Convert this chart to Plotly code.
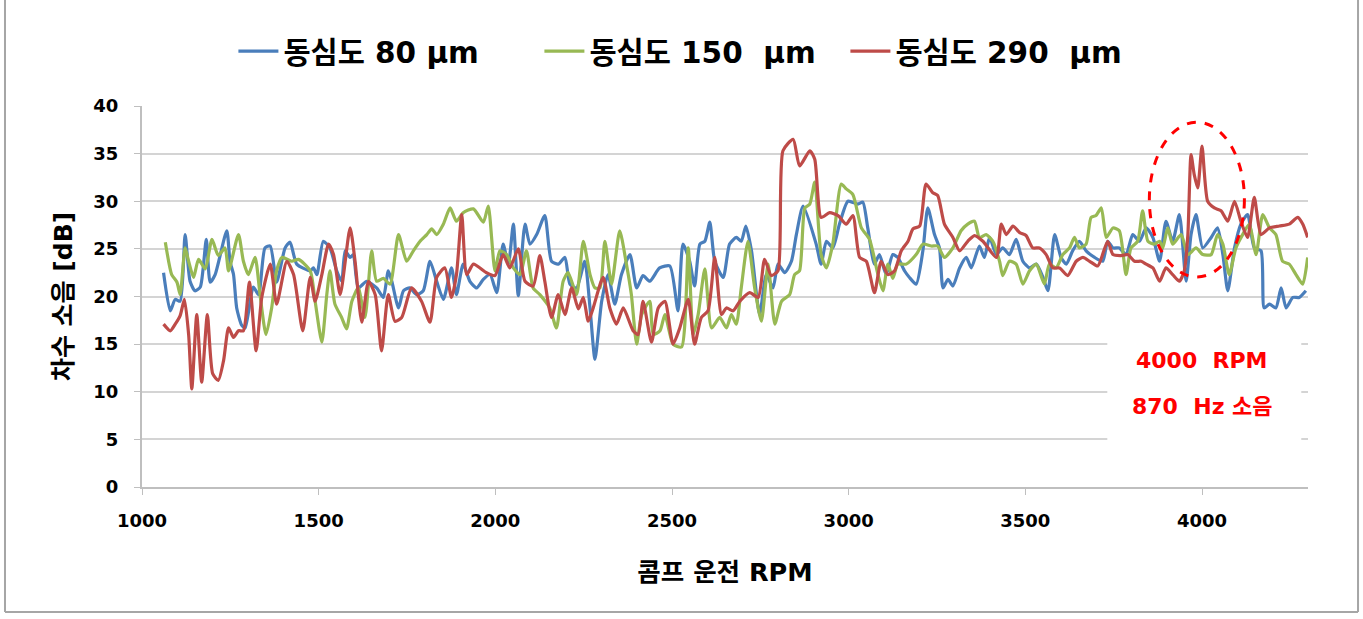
import plotly.graph_objects as go

# RPM sweep readings for each concentricity setting (order noise, dB)
rpm_80 = [1061, 1080, 1094, 1108, 1122, 1136, 1150, 1165, 1182, 1193, 1207, 1240, 1249, 1259, 1268, 1282, 1292,
          1315, 1330, 1348, 1363, 1381, 1405, 1419, 1438, 1476,
          1485, 1495, 1513, 1532, 1551, 1565, 1575, 1589, 1598, 1612, 1636, 1664, 1683, 1697, 1707, 1726, 1740,
          1758, 1777, 1796, 1815, 1834, 1853, 1876, 1890, 1909, 1928, 1947,
          1966, 1985, 2004, 2022, 2037, 2051, 2065, 2084, 2098, 2117, 2140, 2159, 2178, 2197, 2211, 2230, 2253,
          2268, 2282, 2301, 2319, 2338, 2357, 2381, 2400, 2418, 2437,
          2465, 2494, 2517, 2531, 2550, 2564, 2579, 2593, 2607, 2621, 2645, 2663, 2682, 2696, 2709, 2725, 2748,
          2767, 2786, 2800, 2819, 2838, 2852, 2871,
          2908, 2922, 2937, 2955, 2974, 2998, 3026, 3040, 3054, 3073, 3087, 3106, 3125, 3139, 3158, 3172, 3191,
          3210, 3224, 3243, 3257, 3267, 3281, 3295, 3314, 3333, 3347, 3370, 3384, 3399,
          3418, 3436, 3455, 3474, 3493, 3512, 3531, 3550, 3564, 3583, 3601, 3616, 3634, 3653, 3672, 3696, 3719,
          3733, 3748, 3766, 3785, 3804, 3823, 3842, 3861, 3880,
          3898, 3917, 3936, 3955, 3969, 3983, 4002, 4026, 4044, 4059, 4073, 4092, 4110, 4129, 4148, 4167, 4176,
          4191, 4209, 4224, 4238, 4257, 4275, 4294]
db_80 = [22.5, 18.5, 19.7, 19.5, 26.5, 21.6, 20.6, 21.0, 26.0, 21.5, 22.3, 26.9, 23.7, 22.3, 18.8, 17.0, 16.7,
         21.0, 20.2, 25.1, 25.3, 21.5, 25.1, 25.7, 23.4, 22.7,
         23.0, 22.3, 25.8, 25.1, 22.7, 21.6, 24.8, 24.1, 24.4, 20.9, 21.6, 20.9, 19.9, 22.7, 21.6, 18.8, 20.6,
         20.9, 20.2, 20.6, 23.7, 21.6, 19.7, 23.0, 20.2, 23.4, 21.6, 20.9,
         21.8, 22.3, 20.4, 25.5, 23.4, 27.6, 20.1, 27.6, 25.5, 26.5, 28.5, 23.7, 23.4, 24.1, 21.3, 20.9, 23.7,
         18.8, 13.4, 19.5, 22.3, 19.2, 22.3, 24.4, 20.9, 22.2, 21.6,
         23.0, 23.2, 18.5, 25.5, 23.7, 21.1, 25.5, 25.8, 27.8, 23.7, 22.0, 25.5, 26.2, 25.8, 27.4, 24.8, 18.1,
         22.3, 20.9, 23.4, 22.5, 23.7, 26.5, 29.5,
         25.5, 23.4, 25.8, 25.1, 27.6, 30.0, 29.7, 29.9, 27.2, 23.4, 24.4, 22.3, 24.4, 24.1, 22.7, 22.0, 21.3,
         24.8, 29.3, 26.5, 25.1, 20.9, 21.8, 21.1, 23.0, 24.1, 23.0, 25.3, 24.1, 26.2,
         24.4, 25.1, 24.4, 26.0, 23.7, 23.0, 23.4, 22.0, 20.6, 26.5, 24.1, 23.4, 24.8, 25.8, 24.8, 24.1, 23.7,
         25.8, 25.1, 25.1, 24.4, 26.5, 25.8, 27.2, 26.2, 23.7,
         27.9, 25.8, 28.6, 21.6, 26.5, 28.6, 25.1, 26.2, 27.2, 24.4, 20.6, 25.1, 27.6, 28.6, 25.1, 24.8, 18.8,
         19.2, 18.8, 20.9, 18.8, 19.9, 19.9, 20.6]

rpm_150 = [1066, 1084, 1099, 1108, 1122, 1132, 1146, 1160, 1179, 1198, 1216, 1235, 1245, 1273, 1287, 1301,
           1320, 1334, 1351, 1367, 1381, 1396, 1424, 1443, 1476,
           1490, 1509, 1523, 1532, 1546, 1565, 1579, 1594, 1612, 1631, 1650, 1664, 1683, 1702, 1726, 1749,
           1768, 1787, 1806, 1820, 1834, 1853, 1872, 1890, 1909, 1938,
           1966, 1980, 1999, 2013, 2032, 2051, 2070, 2088, 2107, 2126, 2154, 2173, 2192, 2206, 2230, 2249,
           2268, 2282, 2296, 2310, 2329, 2352, 2371, 2385, 2400, 2414, 2437,
           2447, 2466, 2480, 2503, 2527, 2546, 2560, 2574, 2593, 2612, 2635, 2654, 2668, 2682, 2696, 2715,
           2734, 2753, 2772, 2791, 2810, 2833, 2847, 2861, 2876, 2890, 2904,
           2922, 2937, 2955, 2979, 2993, 3012, 3036, 3059, 3083, 3097, 3111, 3125, 3139, 3163, 3191, 3210,
           3234, 3252, 3271, 3295, 3318, 3337, 3356, 3370, 3389,
           3408, 3427, 3436, 3455, 3474, 3493, 3512, 3531, 3554, 3568, 3587, 3606, 3625, 3639, 3653, 3672,
           3686, 3700, 3715, 3729, 3748, 3766, 3785, 3799, 3818, 3832, 3847, 3865, 3880,
           3889, 3903, 3917, 3941, 3960, 3983, 4002, 4026, 4044, 4059, 4077, 4096, 4115, 4134, 4153, 4172,
           4191, 4209, 4228, 4247, 4266, 4285, 4299]
db_150 = [25.7, 22.3, 21.5, 20.2, 25.1, 23.7, 22.0, 23.9, 22.9, 26.0, 24.3, 25.1, 22.7, 26.5, 23.7, 22.3,
          24.1, 20.2, 16.0, 18.8, 22.7, 24.1, 23.7, 23.9, 22.7,
          19.5, 15.2, 20.2, 22.7, 19.2, 17.8, 16.6, 19.5, 20.9, 17.8, 24.8, 21.6, 21.9, 21.3, 26.5, 23.7,
          24.8, 25.8, 26.5, 27.1, 26.5, 27.6, 29.3, 27.9, 28.8, 29.2,
          27.8, 29.5, 22.7, 24.8, 24.4, 23.0, 22.3, 24.8, 20.9, 20.2, 18.8, 16.7, 21.6, 22.5, 20.2, 25.8,
          22.3, 20.9, 20.9, 25.8, 21.3, 26.9, 23.4, 20.2, 15.0, 18.1, 19.5,
          16.0, 16.4, 18.1, 15.0, 14.7, 25.1, 16.0, 18.1, 22.9, 16.7, 17.8, 16.7, 18.1, 17.1, 20.9, 25.8,
          20.9, 17.4, 23.4, 17.1, 19.5, 20.2, 22.3, 22.7, 29.3, 29.7, 32.0,
          24.4, 23.0, 25.5, 31.8, 31.3, 30.7, 27.2, 26.0, 22.3, 20.6, 23.4, 21.9, 23.4, 23.4, 24.4, 25.5,
          25.3, 25.3, 24.1, 25.1, 26.9, 27.6, 27.9, 26.2, 26.5,
          25.8, 23.7, 22.2, 23.7, 23.4, 21.3, 22.7, 23.4, 21.3, 23.4, 23.0, 24.4, 25.1, 26.2, 25.1, 25.5,
          28.3, 28.5, 29.3, 26.2, 27.2, 26.9, 22.3, 25.1, 25.8, 29.0, 25.8, 25.5, 25.8,
          25.1, 27.2, 25.5, 26.5, 24.4, 25.1, 24.4, 24.4, 26.5, 25.5, 22.3, 25.1, 26.5, 27.6, 24.4, 28.6,
          27.2, 26.5, 23.7, 23.4, 22.3, 21.3, 24.1]

rpm_290 = [1061, 1080, 1094, 1108, 1120, 1132, 1141, 1155, 1169, 1185, 1200, 1216, 1231, 1245, 1259, 1273,
           1287, 1304, 1323, 1339, 1363, 1381, 1410, 1429, 1455, 1476,
           1490, 1509, 1528, 1542, 1561, 1589, 1603, 1622, 1641, 1660, 1678, 1697, 1716, 1735, 1763, 1791,
           1815, 1834, 1857, 1876, 1890, 1905, 1919, 1938,
           1975, 1999, 2022, 2041, 2065, 2084, 2107, 2126, 2140, 2159, 2178, 2197, 2216, 2235, 2249, 2263,
           2277, 2305, 2324, 2343, 2362, 2390, 2404, 2418,
           2442, 2461, 2480, 2503, 2522, 2546, 2564, 2583, 2602, 2621, 2640, 2654, 2673, 2692, 2720, 2744,
           2762, 2781, 2800, 2814, 2843, 2861, 2890,
           2904, 2922, 2946, 2970, 2993, 3012, 3031, 3050, 3073, 3092, 3111, 3130, 3149, 3168, 3182, 3201,
           3219, 3238, 3252, 3271, 3295, 3314, 3337, 3356, 3380,
           3418, 3432, 3446, 3465, 3484, 3502, 3521, 3540, 3559, 3578, 3597, 3620, 3644, 3663, 3682, 3705,
           3733, 3748, 3771, 3790, 3809, 3828, 3842, 3861, 3880,
           3898, 3917, 3936, 3950, 3960, 3969, 3978, 3988, 4000, 4016, 4035, 4054, 4073, 4092, 4110, 4129,
           4148, 4167, 4191, 4219, 4247, 4271, 4285, 4299]
db_290 = [17.1, 16.4, 17.1, 18.0, 19.7, 16.0, 10.3, 18.1, 11.0, 18.1, 11.9, 11.2, 13.3, 16.7, 15.7, 16.4,
          16.4, 21.5, 14.3, 19.9, 23.4, 19.2, 23.7, 22.3, 16.4, 22.0,
          19.5, 22.3, 25.5, 24.4, 20.2, 27.2, 23.7, 17.3, 21.6, 20.2, 14.3, 20.2, 17.4, 17.8, 20.9, 19.5,
          17.3, 22.0, 23.0, 19.9, 22.3, 28.6, 22.3, 23.4,
          22.5, 22.2, 24.4, 23.0, 25.0, 21.6, 21.1, 24.3, 21.6, 17.8, 20.2, 18.1, 20.9, 18.7, 19.9, 17.4,
          18.8, 22.0, 18.8, 17.1, 18.8, 16.4, 16.0, 19.5,
          15.2, 18.8, 19.5, 15.0, 16.7, 19.7, 15.0, 17.8, 18.5, 24.1, 18.1, 18.8, 18.5, 19.5, 20.4, 19.9,
          23.9, 22.2, 22.7, 35.3, 36.5, 33.7, 35.3,
          34.4, 28.3, 28.8, 28.5, 27.6, 28.5, 24.1, 23.7, 20.4, 23.7, 22.3, 22.7, 24.8, 25.8, 27.1, 27.4,
          31.8, 30.9, 30.6, 27.6, 26.2, 24.8, 25.8, 26.4, 25.8,
          24.1, 27.6, 26.5, 27.4, 26.7, 26.4, 25.1, 25.1, 24.4, 23.0, 23.0, 22.2, 23.7, 24.1, 23.7, 23.2,
          25.8, 24.4, 24.3, 24.4, 23.7, 23.7, 23.4, 23.0, 21.6,
          23.0, 22.3, 21.6, 22.7, 26.5, 34.9, 32.8, 31.4, 35.8, 30.0, 29.3, 29.0, 27.9, 30.0, 27.9, 26.2,
          30.4, 26.5, 27.2, 27.4, 27.6, 28.3, 27.6, 26.2]

series_names = ["동심도 80 μm", "동심도 150\u00a0 μm", "동심도 290\u00a0 μm"]
series_colors = ["#4A7EBB", "#98B954", "#BE4B48"]

x_ticks = [1000, 1500, 2000, 2500, 3000, 3500, 4000]
y_ticks = [0, 5, 10, 15, 20, 25, 30, 35, 40]

note_lines = ["4000\u00a0 RPM", "870\u00a0 Hz 소음"]

TXT = "DejaVu Sans, Noto Sans CJK KR"
GRID = "#D4D4D4"
AXIS = "#BFBFBF"

fig = go.Figure()
for xs, ys, name, color in zip([rpm_80, rpm_150, rpm_290], [db_80, db_150, db_290],
                               series_names, series_colors):
    fig.add_trace(go.Scatter(
        x=xs, y=ys, name=name, mode="lines",
        line=dict(color=color, width=3.2, shape="spline", smoothing=0.6),
    ))

# white panel behind the note text (hides the low gridlines there)
fig.add_shape(type="rect", xref="x", yref="y", x0=3732, x1=4281, y0=4.2, y1=16.8,
              fillcolor="white", line=dict(width=0), layer="between")

# dashed ellipse around the 4000 RPM peak
fig.add_shape(type="circle", xref="x", yref="y", x0=3851, x1=4120, y0=22.05, y1=38.3,
              line=dict(color="#FF0000", width=3, dash="dash"), layer="above")

fig.add_annotation(x=4000, y=13.3, xref="x", yref="y", text=note_lines[0], showarrow=False,
                   font=dict(family=TXT, size=22, color="#FF0000", weight="bold"))
fig.add_annotation(x=4000, y=8.4, xref="x", yref="y", text=note_lines[1], showarrow=False,
                   font=dict(family=TXT, size=22, color="#FF0000", weight="bold"))

# outer frame
for x0, x1, y0, y1 in [(-0.1175, -0.1175, -0.328, 1.3), (1.0429, 1.0429, -0.328, 1.3),
                       (-0.1175, 1.0429, -0.328, -0.328)]:
    fig.add_shape(type="line", xref="paper", yref="paper", x0=x0, x1=x1, y0=y0, y1=y1,
                  line=dict(color="#A6A6A6", width=2))

fig.update_layout(
    width=1363, height=619,
    margin=dict(l=142, r=55, t=106, b=132),
    paper_bgcolor="white", plot_bgcolor="white",
    font=dict(family=TXT, color="#000000"),
    showlegend=True,
    legend=dict(
        orientation="h", xref="container", yref="container",
        x=0.508, xanchor="center", y=0.917, yanchor="middle",
        font=dict(family=TXT, size=29.5, color="#000000", weight="bold"),
        itemwidth=40, entrywidth=251, bgcolor="rgba(0,0,0,0)",
    ),
    xaxis=dict(
        range=[1000, 4300], tickvals=x_ticks, ticktext=[str(v) for v in x_ticks],
        showgrid=False, zeroline=False,
        showline=True, linecolor=AXIS, linewidth=2,
        ticks="outside", ticklen=6, tickcolor=AXIS, tickwidth=1,
        ticklabelstandoff=10,
        tickfont=dict(family="DejaVu Sans", size=18, color="#000000", weight="bold"),
        title=dict(text="콤프 운전 RPM", standoff=34,
                   font=dict(family=TXT, size=25.5, color="#000000", weight="bold")),
    ),
    yaxis=dict(
        range=[0, 40], tickvals=y_ticks, ticktext=[str(v) for v in y_ticks],
        showgrid=True, gridcolor=GRID, gridwidth=2, zeroline=False,
        showline=True, linecolor=AXIS, linewidth=2,
        ticks="outside", ticklen=6, tickcolor=AXIS, tickwidth=1,
        ticklabelstandoff=12,
        tickfont=dict(family="DejaVu Sans", size=18, color="#000000", weight="bold"),
        title=dict(text="차수 소음 [dB]", standoff=14,
                   font=dict(family=TXT, size=25, color="#000000", weight="bold")),
    ),
)

fig.write_html("out.html")
